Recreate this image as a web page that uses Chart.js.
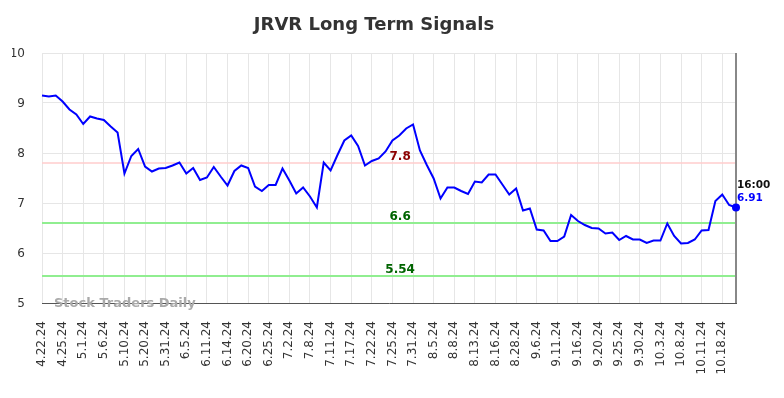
<!DOCTYPE html>
<html><head><meta charset="utf-8">
<script src="https://cdn.jsdelivr.net/npm/chart.js@4"></script>
<style>html,body{margin:0;padding:0;background:#fff}canvas{display:block}</style>
</head><body>
<canvas id="c" width="784" height="398"></canvas>
<script>
const tickLabels = ['4.22.24','4.25.24','5.1.24','5.6.24','5.10.24','5.20.24','5.31.24','6.5.24','6.11.24','6.14.24','6.20.24','6.25.24','7.2.24','7.8.24','7.11.24','7.17.24','7.22.24','7.25.24','7.31.24','8.5.24','8.8.24','8.13.24','8.16.24','8.28.24','9.6.24','9.11.24','9.16.24','9.20.24','9.25.24','9.30.24','10.3.24','10.8.24','10.11.24','10.18.24'];
const values = [9.15,9.13,9.15,9.03,8.87,8.77,8.58,8.73,8.69,8.66,8.53,8.41,7.59,7.94,8.08,7.73,7.63,7.69,7.70,7.75,7.81,7.59,7.70,7.46,7.51,7.72,7.53,7.35,7.64,7.75,7.70,7.33,7.24,7.36,7.36,7.69,7.45,7.19,7.31,7.13,6.91,7.81,7.65,7.96,8.25,8.35,8.14,7.75,7.84,7.89,8.03,8.25,8.35,8.49,8.57,8.05,7.76,7.49,7.09,7.31,7.31,7.24,7.18,7.43,7.41,7.57,7.57,7.37,7.17,7.29,6.85,6.89,6.47,6.45,6.24,6.24,6.33,6.76,6.64,6.56,6.50,6.49,6.39,6.41,6.26,6.34,6.27,6.27,6.20,6.25,6.25,6.59,6.34,6.19,6.20,6.27,6.45,6.46,7.04,7.17,6.96,6.91];
const refValues = [7.8, 6.6, 5.54];
const lastTime = '16:00';
const categories = values.map((v, i) => (i % 3 === 0 ? (tickLabels[i / 3] || '') : ''));

Chart.defaults.font.family = "'DejaVu Sans', sans-serif";

const overlay = {
  id: 'overlay',
  beforeDatasetsDraw(chart) {
    const {ctx, chartArea: a, scales: {x, y}} = chart;
    ctx.save();
    refValues.forEach((v, k) => {
      const py = y.getPixelForValue(v);
      ctx.beginPath();
      ctx.strokeStyle = k === 0 ? '#ffcccc' : '#90ee90';
      ctx.lineWidth = k === 0 ? 1.5 : 2;
      ctx.moveTo(a.left, py); ctx.lineTo(a.right, py); ctx.stroke();
    });
    const lx = x.getPixelForValue(values.length - 1);
    ctx.beginPath();
    ctx.strokeStyle = '#888';
    ctx.lineWidth = 2;
    ctx.moveTo(lx, a.top); ctx.lineTo(lx, a.bottom); ctx.stroke();
    ctx.restore();
  },
  afterDatasetsDraw(chart) {
    const {ctx, chartArea: a, scales: {x, y}} = chart;
    ctx.save();
    ctx.font = "bold 12px 'DejaVu Sans'";
    ctx.textAlign = 'center';
    ctx.textBaseline = 'alphabetic';
    const cx = a.left + (a.right - a.left) * 0.516;
    refValues.forEach((v, k) => {
      const py = y.getPixelForValue(v);
      ctx.fillStyle = k === 0 ? '#8b0000' : '#006400';
      ctx.fillText(String(v), cx, py - 3.5);
    });
    const li = values.length - 1;
    const px = x.getPixelForValue(li), py = y.getPixelForValue(values[li]);
    ctx.font = "bold 10.5px 'DejaVu Sans'";
    ctx.textAlign = 'left';
    ctx.fillStyle = '#111';
    ctx.fillText(lastTime, px + 1, py - 19.5);
    ctx.fillStyle = '#0000ff';
    ctx.fillText(values[li].toFixed(2), px + 1, py - 6.5);
    ctx.font = "bold 13px 'DejaVu Sans'";
    ctx.fillStyle = '#aaaaaa';
    ctx.fillText('Stock Traders Daily', a.left + 12, a.bottom + 4);
    ctx.restore();
  }
};

new Chart(document.getElementById('c'), {
  type: 'line',
  data: {
    labels: categories,
    datasets: [{
      data: values,
      borderColor: '#0000ff',
      backgroundColor: '#0000ff',
      borderWidth: 2,
      tension: 0,
      fill: false,
      pointRadius: ctx => (ctx.dataIndex === values.length - 1 ? 4 : 0),
      pointHoverRadius: 0,
      pointBackgroundColor: '#0000ff',
      pointBorderWidth: 0
    }]
  },
  options: {
    responsive: false,
    animation: false,
    layout: {padding: {left: 12, right: 48, top: 0, bottom: 0}},
    plugins: {
      legend: {display: false},
      tooltip: {enabled: false},
      title: {
        display: true,
        text: 'JRVR Long Term Signals',
        color: '#333',
        font: {size: 18, weight: 'bold'},
        padding: {top: 14.4, bottom: 17}
      }
    },
    scales: {
      x: {
        type: 'category',
        offset: false,
        afterFit: s => { s.height = 95; },
        grid: {
          color: c => (c.index % 3 === 0 ? '#e6e6e6' : 'rgba(0,0,0,0)'),
          lineWidth: 1,
          drawTicks: false
        },
        border: {display: true, color: '#555', width: 1},
        ticks: {
          autoSkip: false,
          minRotation: 90,
          maxRotation: 90,
          padding: 18,
          color: '#333',
          font: {size: 12}
        }
      },
      y: {
        min: 5,
        max: 10,
        afterFit: s => { s.width = 30; },
        grid: {color: '#e6e6e6', lineWidth: 1, drawTicks: false},
        border: {display: false},
        ticks: {stepSize: 1, padding: 17, labelOffset: 1, color: '#333', font: {size: 12}}
      }
    }
  },
  plugins: [overlay]
});
</script>
</body></html>
